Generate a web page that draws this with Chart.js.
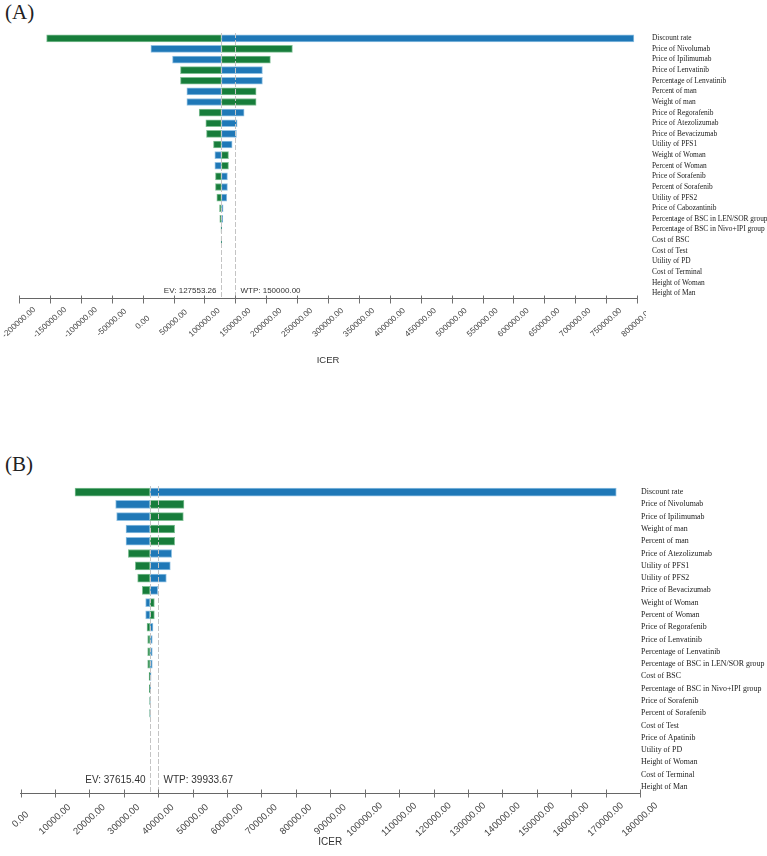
<!DOCTYPE html>
<html lang="en">
<head>
<meta charset="UTF-8">
<title>Tornado diagrams</title>
<script src="https://cdn.jsdelivr.net/npm/chart.js@4"></script>
<style>
  body { margin: 0; background: #fff; width: 767px; height: 856px; position: relative; overflow: hidden; }
  canvas { position: absolute; left: 0; }
  #chartA { top: 0; }
  #chartB { top: 430px; }
  .tag { position: absolute; left: 5px; font-family: "Liberation Serif", serif; font-size: 21px; color: #222; }
</style>
</head>
<body>
<div class="tag" style="top:0px">(A)</div>
<canvas id="chartA" width="767" height="430"></canvas>
<div class="tag" style="top:452px">(B)</div>
<canvas id="chartB" width="767" height="426"></canvas>

<script>
// ---- panel A ----
const paramsA = ['Discount rate', 'Price of Nivolumab', 'Price of Ipilimumab', 'Price of Lenvatinib',
  'Percentage of Lenvatinib', 'Percent of man', 'Weight of man', 'Price of Regorafenib',
  'Price of Atezolizumab', 'Price of Bevacizumab', 'Utility of PFS1', 'Weight of Woman',
  'Percent of Woman', 'Price of Sorafenib', 'Percent of Sorafenib', 'Utility of PFS2',
  'Price of Cabozantinib', 'Percentage of BSC in LEN/SOR group', 'Percentage of BSC in Nivo+IPI group',
  'Cost of BSC', 'Cost of Test', 'Utility of PD', 'Cost of Terminal', 'Height of Woman', 'Height of Man'];
// ICER at the green end and at the blue end of each bar
const greenA = [-155300, 242400, 206800, 61300, 61300, 183700, 183700, 91500, 102300, 103400, 114700,
  139000, 139000, 117900, 117900, 120100, 124400, 124900, 126900, 127100, null, null, null, null, null];
const blueA = [795000, 13400, 48400, 193900, 193900, 71600, 71600, 164300, 153000, 151900, 144900,
  116900, 116900, 137300, 137300, 136300, 130300, 129800, 128200, 128000, null, null, null, null, null];
const evA = 127553.26;
const wtpA = 150000.00;
const xTicksA = [-200000, 800000, 50000]; // min, max, step

// ---- panel B ----
const paramsB = ['Discount rate', 'Price of Nivolumab', 'Price of Ipilimumab', 'Weight of man',
  'Percent of man', 'Price of Atezolizumab', 'Utility of PFS1', 'Utility of PFS2',
  'Price of Bevacizumab', 'Weight of Woman', 'Percent of Woman', 'Price of Regorafenib',
  'Price of Lenvatinib', 'Percentage of Lenvatinib', 'Percentage of BSC in LEN/SOR group',
  'Cost of BSC', 'Percentage of BSC in Nivo+IPI group', 'Price of Sorafenib', 'Percent of Sorafenib',
  'Cost of Test', 'Price of Apatinib', 'Utility of PD', 'Height of Woman', 'Cost of Terminal', 'Height of Man'];
const greenB = [15840, 47500, 47310, 44790, 44790, 31330, 33360, 34040, 35400, 38890, 38890, 36760,
  36950, 36950, 36950, 37350, 37450, 37560, 37560, null, null, null, null, null, null];
const blueB = [173100, 27650, 27940, 30650, 30650, 43920, 43530, 42370, 39860, 36370, 36370, 38500,
  38300, 38300, 38300, 37950, 37800, 37700, 37700, null, null, null, null, null, null];
const evB = 37615.40;
const wtpB = 39933.67;
const xTicksB = [0, 180000, 10000];

const GREEN = '#177d3b';
const BLUE = '#1f78b7';
const SANS = '"Liberation Sans", Arial, sans-serif';
const SERIF = '"Liberation Serif", "Times New Roman", serif';

// dashed EV / WTP lines with their labels, tick marks across the axis, and tick labels centred under each tick
const refLines = {
  id: 'refLines',
  afterDraw(chart, args, o) {
    const { ctx, chartArea: a, scales: { x } } = chart;
    const xEv = Math.round(x.getPixelForValue(o.ev)) + 0.5;
    const xWtp = Math.round(x.getPixelForValue(o.wtp)) + 0.5;
    ctx.save();
    ctx.strokeStyle = '#c4c4c4';
    ctx.lineWidth = 1;
    ctx.setLineDash([5, 2]);
    [xEv, xWtp].forEach(px => {
      ctx.beginPath();
      ctx.moveTo(px, a.top);
      ctx.lineTo(px, a.bottom);
      ctx.stroke();
    });
    ctx.setLineDash([]);
    ctx.font = o.refFont + 'px ' + SANS;
    ctx.fillStyle = '#333';
    ctx.textBaseline = 'middle';
    const ty = a.bottom - o.labelOffset;
    ctx.textAlign = 'right';
    ctx.fillText('EV: ' + o.ev.toFixed(2), xEv - 5, ty);
    ctx.textAlign = 'left';
    ctx.fillText('WTP: ' + o.wtp.toFixed(2), xWtp + 5, ty);

    ctx.strokeStyle = '#707070';
    const ay = Math.round(a.bottom) + 0.5;
    x.ticks.forEach((t, i) => {
      const px = Math.round(x.getPixelForTick(i)) + 0.5;
      ctx.beginPath();
      ctx.moveTo(px, ay - 4);
      ctx.lineTo(px, ay + 4);
      ctx.stroke();
    });

    ctx.beginPath();
    ctx.rect(0, ay + 2, o.clipRight, 200);
    ctx.clip();
    ctx.font = o.tickFont + 'px ' + SANS;
    ctx.fillStyle = '#444';
    ctx.textAlign = 'center';
    x.ticks.forEach((t, i) => {
      ctx.save();
      ctx.translate(x.getPixelForTick(i), ay + o.tickDrop);
      ctx.rotate(-o.tickAngle * Math.PI / 180);
      ctx.fillText(Number(t.value).toFixed(2), 0, 0);
      ctx.restore();
    });
    ctx.restore();
  }
};

function makeTornado(id, params, green, blue, ev, wtp, xr, box) {
  const H = document.getElementById(id).height;
  const bar = (vals, color, edge) => ({
    data: vals.map(v => v == null ? null : [ev, v]),
    backgroundColor: color,
    borderColor: edge,
    borderWidth: 1,
    borderSkipped: false,
    barThickness: box.barSize,
    grouped: false
  });
  return new Chart(document.getElementById(id), {
    type: 'bar',
    data: {
      labels: params,
      datasets: [bar(green, GREEN, '#7fbf94'), bar(blue, BLUE, '#8fc0e2')]
    },
    options: {
      indexAxis: 'y',
      responsive: false,
      animation: false,
      layout: { padding: { left: box.left, top: box.top, right: 0, bottom: H - box.titleBottom } },
      scales: {
        x: {
          type: 'linear',
          min: xr[0],
          max: xr[1],
          border: { display: true, color: '#666', width: 1 },
          grid: { display: false },
          ticks: { stepSize: xr[2], autoSkip: false, display: false },
          title: {
            display: true,
            text: 'ICER',
            color: '#333',
            padding: 0,
            font: { family: SANS, size: box.titleFont }
          },
          afterFit: s => {
            s.height = box.titleBottom - box.axis;
            s.paddingLeft = 0;
            s.paddingRight = 0;
          }
        },
        y: {
          position: 'right',
          grid: { display: false, drawTicks: false },
          border: { display: false },
          ticks: {
            padding: box.labelGap,
            color: '#222',
            autoSkip: false,
            font: { family: SERIF, size: box.labelFont }
          },
          afterFit: s => {
            s.width = 767 - box.right;
            s.paddingTop = 0;
            s.paddingBottom = 0;
          }
        }
      },
      plugins: {
        legend: { display: false },
        tooltip: { enabled: false },
        refLines: {
          ev: ev, wtp: wtp, labelOffset: box.labelOffset, refFont: box.refFont,
          tickFont: box.tickFont, tickDrop: box.tickDrop, tickAngle: box.tickAngle, clipRight: box.clipRight
        }
      }
    },
    plugins: [refLines]
  });
}

makeTornado('chartA', paramsA, greenA, blueA, evA, wtpA, xTicksA, {
  left: 19, right: 637, top: 33, axis: 298.5, titleBottom: 366, labelGap: 15, labelOffset: 8,
  labelFont: 7.4, refFont: 8, tickFont: 8.2, tickDrop: 23, tickAngle: 42, titleFont: 9.5, barSize: 7, clipRight: 646
});
makeTornado('chartB', paramsB, greenB, blueB, evB, wtpB, xTicksB, {
  left: 20.5, right: 640, top: 56, axis: 363, titleBottom: 418, labelGap: 1, labelOffset: 13,
  labelFont: 7.9, refFont: 10, tickFont: 9.5, tickDrop: 26, tickAngle: 43, titleFont: 10, barSize: 8, clipRight: 767
});
</script>
</body>
</html>
